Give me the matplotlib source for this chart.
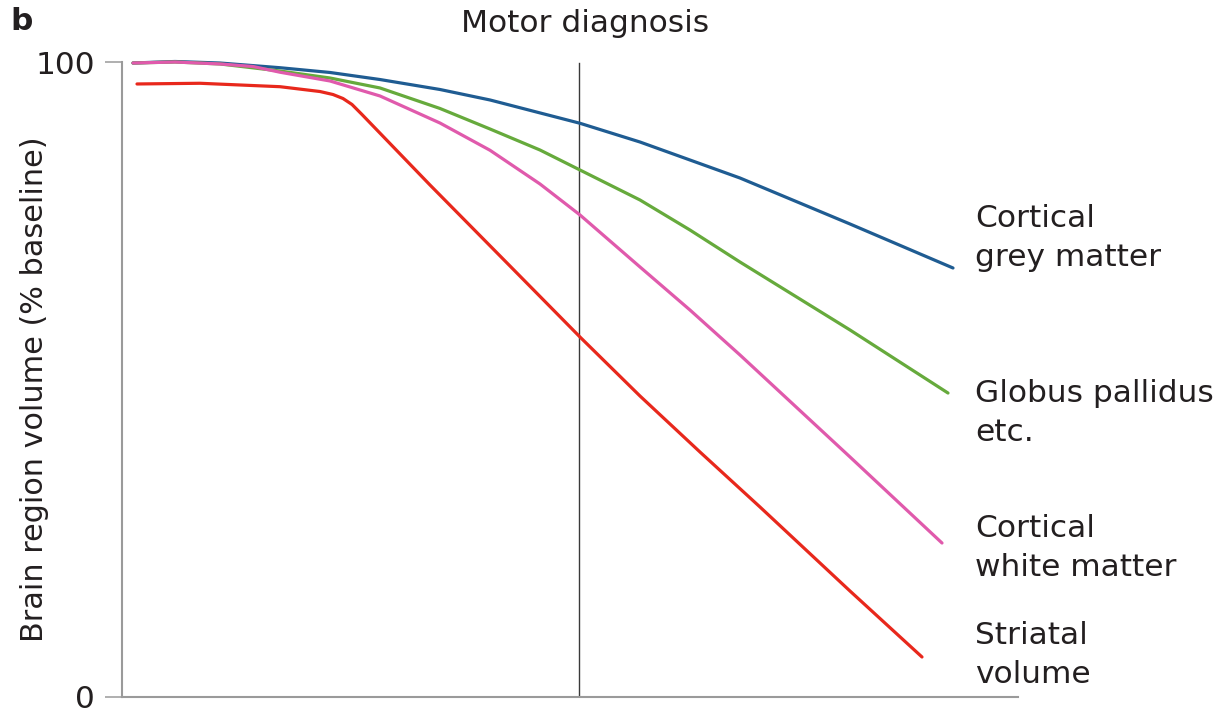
import matplotlib
matplotlib.use("Agg")
import matplotlib.pyplot as plt

# ---- data (x in arbitrary time units, y = % of baseline volume) ----
x_grey = [11, 53, 98, 158, 208, 258, 318, 368, 458, 518, 618, 728, 831]
grey_matter = [99.84, 100.08, 99.84, 99.10, 98.35, 97.24, 95.67, 94.02, 90.35,
               87.40, 81.73, 74.49, 67.56]

x_gp = [11, 53, 98, 158, 208, 258, 318, 368, 418, 458, 518, 568, 618, 728, 826]
globus_pallidus = [99.84, 100.0, 99.69, 98.58, 97.48, 95.91, 92.68, 89.45, 86.14,
                   82.99, 78.27, 73.54, 68.50, 57.80, 47.87]

x_wm = [11, 53, 98, 131, 158, 208, 258, 318, 368, 418, 458, 518, 568, 618, 728, 820]
white_matter = [99.84, 100.0, 99.69, 99.29, 98.39, 97.01, 94.65, 90.39, 86.10,
                80.79, 75.91, 67.72, 60.94, 53.86, 37.80, 24.25]

x_str = [15, 78, 158, 198, 211, 221, 230, 240, 308, 385, 458, 518, 578, 638, 728, 800]
striatal = [96.54, 96.65, 96.11, 95.35, 94.88, 94.25, 93.31, 91.73, 80.63, 68.35,
            56.69, 47.40, 38.58, 29.92, 16.69, 6.30]

series_labels = ["Cortical\ngrey matter", "Globus pallidus\netc.",
                 "Cortical\nwhite matter", "Striatal\nvolume"]
label_y = [72.3, 44.7, 23.5, 6.6]
motor_dx = 457
y_ticks = [0, 100]

# ---- style ----
TXT = "#231f20"
SPINE = "#9a9a9a"
colors = ["#1f5c92", "#66aa3c", "#e05aac", "#e8281c"]
FS = 22.5

plt.rcParams['font.family'] = ['DejaVu Sans']

fig = plt.figure(figsize=(12.19, 7.13), dpi=100)
ax = fig.add_axes([122 / 1219, 16 / 713, (1018 - 122) / 1219, 635 / 713])

xs = [x_grey, x_gp, x_wm, x_str]
ys = [grey_matter, globus_pallidus, white_matter, striatal]
for xv, yv, c in zip(xs, ys, colors):
    ax.plot(xv, yv, color=c, lw=2.3, solid_capstyle='round', solid_joinstyle='round',
            clip_on=False, zorder=3)

ax.axvline(motor_dx, ymin=0, ymax=0.998, color="#3a3a3a", lw=1.0, zorder=2)

ax.set_xlim(0, 896)
ax.set_ylim(0, 100)

for s in ["top", "right"]:
    ax.spines[s].set_visible(False)
for s in ["left", "bottom"]:
    ax.spines[s].set_color(SPINE)
    ax.spines[s].set_linewidth(1.5)

ax.set_xticks([])
ax.set_yticks(y_ticks)
ax.set_yticklabels([str(t) for t in y_ticks])
ax.tick_params(axis='y', length=12.2, width=1.1, color=SPINE, pad=7,
               labelsize=FS, labelcolor=TXT)

ax.set_ylabel("Brain region volume (% baseline)", fontsize=21.8, color=TXT)
ax.yaxis.set_label_coords(-0.082, 0.485)

# right-hand labels
for lab, ly in zip(series_labels, label_y):
    ax.text(853, ly, lab, fontsize=FS, color=TXT, va='center', ha='left',
            linespacing=1.42, clip_on=False)

fig.text(585 / 1219, 1 - 24 / 713, "Motor diagnosis", fontsize=FS, color=TXT,
         ha='center', va='center')
fig.text(10 / 1219, 1 - 22 / 713, "b", fontsize=FS, color=TXT, fontweight='bold',
         ha='left', va='center')

fig.savefig("out.png", dpi=100, facecolor="white")
